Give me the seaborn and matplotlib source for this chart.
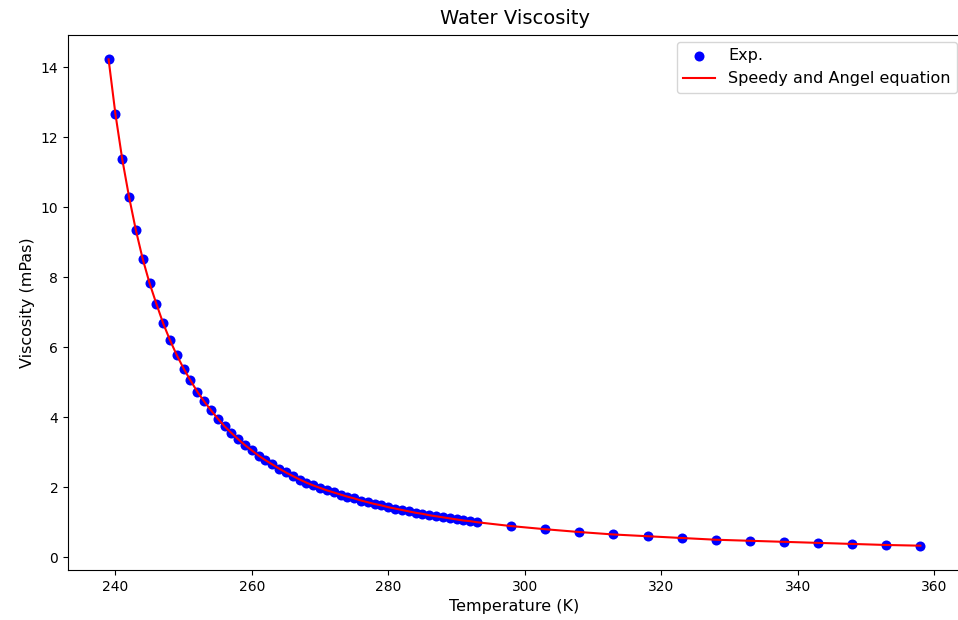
import matplotlib
matplotlib.use("Agg")
import matplotlib.pyplot as plt
import seaborn as sns
import pandas as pd

temperature_k = [239, 240, 241, 242, 243, 244, 245, 246, 247, 248, 249, 250,
                 251, 252, 253, 254, 255, 256, 257, 258, 259, 260, 261, 262,
                 263, 264, 265, 266, 267, 268, 269, 270, 271, 272, 273, 274,
                 275, 276, 277, 278, 279, 280, 281, 282, 283, 284, 285, 286,
                 287, 288, 289, 290, 291, 292, 293,
                 298, 303, 308, 313, 318, 323, 328, 333, 338, 343, 348, 353, 358]
viscosity_mpas = [14.22, 12.66, 11.37, 10.29, 9.34, 8.52, 7.83, 7.24, 6.68, 6.20,
                  5.77, 5.39, 5.05, 4.73, 4.45, 4.20, 3.96, 3.74, 3.55, 3.37,
                  3.20, 3.05, 2.90, 2.77, 2.65, 2.53, 2.42, 2.32, 2.22, 2.13,
                  2.05, 1.98, 1.91, 1.85, 1.79, 1.73, 1.68, 1.62, 1.57, 1.52,
                  1.48, 1.43, 1.39, 1.35, 1.31, 1.27, 1.24, 1.20, 1.17, 1.14,
                  1.11, 1.08, 1.05, 1.03, 1.00,
                  0.89, 0.80, 0.72, 0.65, 0.60, 0.55, 0.50, 0.47, 0.44, 0.41,
                  0.38, 0.35, 0.33]

df = pd.DataFrame({"T": temperature_k, "eta": viscosity_mpas})

plt.rcParams.update(plt.rcParamsDefault)
fig = plt.figure(figsize=(9.58, 6.2), dpi=100)
ax = fig.add_axes([68 / 958, 50 / 620, 893 / 958, 535 / 620])

sns.scatterplot(data=df, x="T", y="eta", color="blue", s=52, linewidth=0,
                label="Exp.", ax=ax, zorder=2)
sns.lineplot(data=df, x="T", y="eta", color="red", linewidth=1.5,
             label="Speedy and Angel equation", ax=ax, zorder=3, sort=False)

ax.set_title("Water Viscosity", fontsize=14, pad=8)
ax.set_xlabel("Temperature (K)", fontsize=11.5)
ax.set_ylabel("Viscosity (mPas)", fontsize=11.5)
ax.tick_params(labelsize=10)
ax.legend(loc="upper right", fontsize=11.5,
          bbox_to_anchor=(957 / 958, 1 - 42 / 620),
          bbox_transform=fig.transFigure, borderaxespad=0)

fig.savefig("out.png", dpi=100)
